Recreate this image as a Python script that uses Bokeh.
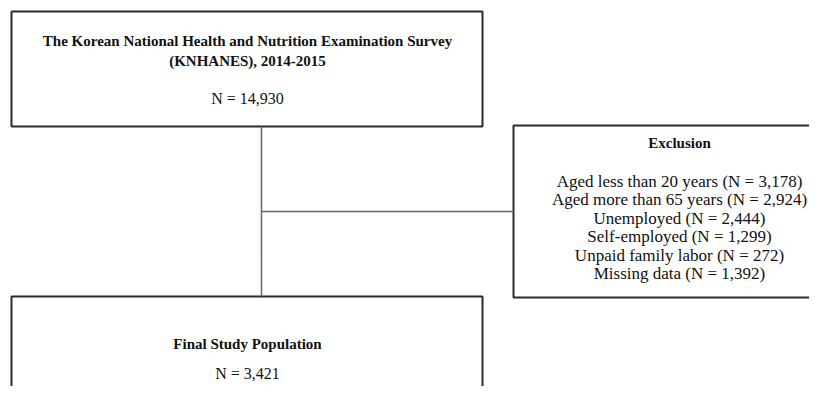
from bokeh.plotting import figure
from bokeh.models import Range1d
from bokeh.core.properties import value
from bokeh.embed import file_html
from bokeh.resources import INLINE

# ---- content ----
top_title = ["The Korean National Health and Nutrition Examination Survey",
             "(KNHANES), 2014-2015"]
top_n = "N = 14,930"
excl_title = "Exclusion"
excl_labels = ["Aged less than 20 years", "Aged more than 65 years", "Unemployed",
               "Self-employed", "Unpaid family labor", "Missing data"]
excl_counts = ["3,178", "2,924", "2,444", "1,299", "272", "1,392"]
final_title = "Final Study Population"
final_n = "N = 3,421"

FONT = value("Liberation Serif")

p = figure(width=809, height=386, output_backend="svg", toolbar_location=None,
           x_range=Range1d(0, 809), y_range=Range1d(386, 0), min_border=0)
p.axis.visible = False
p.grid.visible = False
p.outline_line_color = None
p.background_fill_color = "white"

box_col = "#2b2b2b"
# boxes
p.quad(left=[11, 513, 11], right=[482, 845, 482], top=[11, 125, 296],
       bottom=[126, 297, 430], fill_color=None, line_color=box_col, line_width=2)
# connectors
p.multi_line(xs=[[261, 261], [261, 513]], ys=[[126, 296], [211, 211]],
             line_color="#666666", line_width=1.5)

# top box text
p.text(x=[247, 247], y=[40, 60], text=top_title, text_font=FONT,
       text_font_style="bold", text_font_size="15px", text_align="center",
       text_baseline="middle", text_color="#111111")
p.text(x=[247], y=[98], text=[top_n], text_font=FONT, text_font_size="16px",
       text_align="center", text_baseline="middle", text_color="#111111")

# exclusion text
ex_cx = 679
p.text(x=[ex_cx], y=[142], text=[excl_title], text_font=FONT, text_font_style="bold",
       text_font_size="15px", text_align="center", text_baseline="middle",
       text_color="#111111")
lines = [f"{l} (N = {c})" for l, c in zip(excl_labels, excl_counts)]
ys = [181 + 18.4 * i for i in range(len(lines))]
p.text(x=[ex_cx] * len(lines), y=ys, text=lines, text_font=FONT,
       text_font_size="17px", text_align="center", text_baseline="middle",
       text_color="#111111")

# final box text
p.text(x=[247], y=[343], text=[final_title], text_font=FONT, text_font_style="bold",
       text_font_size="15px", text_align="center", text_baseline="middle",
       text_color="#111111")
p.text(x=[247], y=[373], text=[final_n], text_font=FONT, text_font_size="16px",
       text_align="center", text_baseline="middle", text_color="#111111")

open("out.html", "w").write(file_html(p, INLINE))
